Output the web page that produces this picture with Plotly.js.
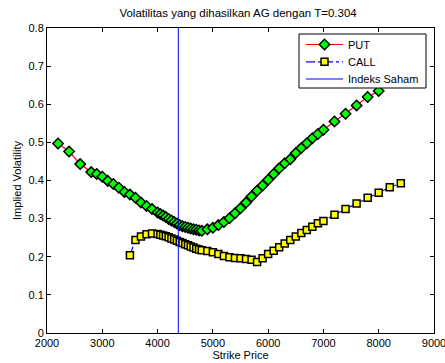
<!DOCTYPE html>
<html>
<head>
<meta charset="utf-8">
<script src="https://cdn.plot.ly/plotly-3.0.1.min.js"></script>
<style>html,body{margin:0;padding:0;background:#fff;}#chart{width:445px;height:363px;}</style>
</head>
<body>
<div id="chart"></div>
<script>
const putStrike = [2200,2400,2600,2800,2900,3000,3100,3200,3300,3400,3500,3600,3700,3800,3900,
  4000,4050,4100,4150,4200,4250,4300,4350,4400,4450,4500,4550,4600,4650,4700,4750,4800,4900,
  5000,5100,5200,5300,5400,5500,5600,5700,5800,5900,6000,6100,6200,6300,6400,6500,6600,6700,6800,6900,7000,
  7200,7400,7600,7800,8000];
const putVol = [0.497,0.476,0.443,0.422,0.417,0.410,0.399,0.391,0.381,0.370,0.363,0.355,0.342,0.333,0.325,
  0.316,0.312,0.308,0.304,0.299,0.295,0.291,0.287,0.283,0.280,0.278,0.276,0.274,0.272,0.271,0.269,0.268,0.272,
  0.276,0.283,0.291,0.301,0.314,0.327,0.342,0.358,0.373,0.387,0.402,0.417,0.432,0.445,0.456,0.472,0.485,0.498,0.511,0.522,0.533,
  0.555,0.575,0.597,0.619,0.635];
const callStrike = [3500,3600,3700,3800,3900,
  4000,4050,4100,4150,4200,4250,4300,4350,4400,4450,4500,4550,4600,4650,4700,4750,4800,4900,
  5000,5100,5200,5300,5400,5500,5600,5700,5800,5900,6000,6100,6200,6300,6400,6500,6600,6700,6800,6900,7000,
  7200,7400,7600,7800,8000,8200,8400];
const callVol = [0.204,0.244,0.253,0.259,0.261,
  0.260,0.258,0.256,0.254,0.251,0.248,0.245,0.242,0.239,0.236,0.233,0.230,0.227,0.224,0.221,0.219,0.217,0.215,
  0.212,0.207,0.202,0.199,0.197,0.196,0.194,0.192,0.186,0.196,0.207,0.216,0.225,0.235,0.244,0.253,0.262,0.270,0.279,0.288,0.294,
  0.310,0.325,0.340,0.355,0.368,0.382,0.393];
const indexX = [4375,4375];
const indexY = [0,0.8];
const seriesNames = ['PUT','CALL','Indeks Saham'];
const xTicks = [2000,3000,4000,5000,6000,7000,8000,9000];
const yTicks = [0,0.1,0.2,0.3,0.4,0.5,0.6,0.7,0.8];
const yTickText = ['0','0.1','0.2','0.3','0.4','0.5','0.6','0.7','0.8'];

const font = {family:'Liberation Sans, Arial, sans-serif', size:11, color:'#000'};
const putStyle = {line:{color:'#ff0000', width:1.2},
  marker:{symbol:'diamond', size:8, color:'#00ff00', line:{color:'#000', width:1.5}}};
const callStyle = {line:{color:'#0000ff', width:1.2, dash:'dashdot'},
  marker:{symbol:'square', size:7, color:'#ffff00', line:{color:'#000', width:1.5}}};
const idxStyle = {line:{color:'#0000ff', width:1}};

const data = [
  Object.assign({x:putStrike, y:putVol, name:seriesNames[0], type:'scatter', mode:'lines+markers'}, putStyle),
  Object.assign({x:callStrike, y:callVol, name:seriesNames[1], type:'scatter', mode:'lines+markers'}, callStyle),
  Object.assign({x:indexX, y:indexY, name:seriesNames[2], type:'scatter', mode:'lines'}, idxStyle)
];

// Legend drawn in an overlay pixel-space axis so it can be sized like the original
const lg = {x0:299, x1:426, y0:34, y1:88, rows:[44.5, 61.8, 79], s0:306, s1:343, sm:324.5, tx:346};
const legendTraces = [
  {x:[lg.x0,lg.x1,lg.x1,lg.x0,lg.x0], y:[lg.y0,lg.y0,lg.y1,lg.y1,lg.y0], mode:'lines', fill:'toself',
   fillcolor:'#fff', line:{color:'#000', width:1}},
  Object.assign({x:[lg.s0,lg.s1], y:[lg.rows[0],lg.rows[0]], mode:'lines'}, {line:putStyle.line}),
  Object.assign({x:[lg.sm], y:[lg.rows[0]], mode:'markers'}, {marker:putStyle.marker}),
  Object.assign({x:[lg.s0,lg.s1], y:[lg.rows[1],lg.rows[1]], mode:'lines'}, {line:callStyle.line}),
  Object.assign({x:[lg.sm], y:[lg.rows[1]], mode:'markers'}, {marker:callStyle.marker}),
  Object.assign({x:[lg.s0,lg.s1], y:[lg.rows[2],lg.rows[2]], mode:'lines'}, {line:idxStyle.line})
].map(t => Object.assign(t, {type:'scatter', xaxis:'x2', yaxis:'y2', showlegend:false, hoverinfo:'skip', cliponaxis:false}));

const axisCommon = {showgrid:false, zeroline:false, showline:true, linecolor:'#000', linewidth:1,
  mirror:'ticks', ticks:'inside', ticklen:4, tickcolor:'#000', tickfont:font, ticklabeloverflow:'allow'};
const layout = {
  width:445, height:363,
  margin:{l:47, r:11, t:28, b:30},
  paper_bgcolor:'#fff', plot_bgcolor:'#fff',
  font:font,
  showlegend:false,
  title:{text:'Volatilitas yang dihasilkan AG dengan T=0.304', font:Object.assign({}, font, {size:11.5}), x:0.535, xanchor:'center', y:0.963, yanchor:'middle'},
  xaxis:Object.assign({}, axisCommon, {range:[2000,9000], tickvals:xTicks, ticktext:xTicks.map(String),
    title:{text:'Strike Price', font:font, standoff:2}}),
  yaxis:Object.assign({}, axisCommon, {range:[0,0.8], tickvals:yTicks, ticktext:yTickText,
    title:{text:'Implied Volatility', font:font, standoff:4}}),
  xaxis2:{overlaying:'x', anchor:'y2', range:[47,434], visible:false, fixedrange:true},
  yaxis2:{overlaying:'y', anchor:'x2', range:[333,28], visible:false, fixedrange:true},
  annotations: seriesNames.map((n,i) => ({text:n, x:lg.tx, y:lg.rows[i], xref:'x2', yref:'y2',
    xanchor:'left', yanchor:'middle', showarrow:false, font:font}))
};
Plotly.newPlot('chart', data.concat(legendTraces), layout, {displayModeBar:false, staticPlot:true});
</script>
</body>
</html>
